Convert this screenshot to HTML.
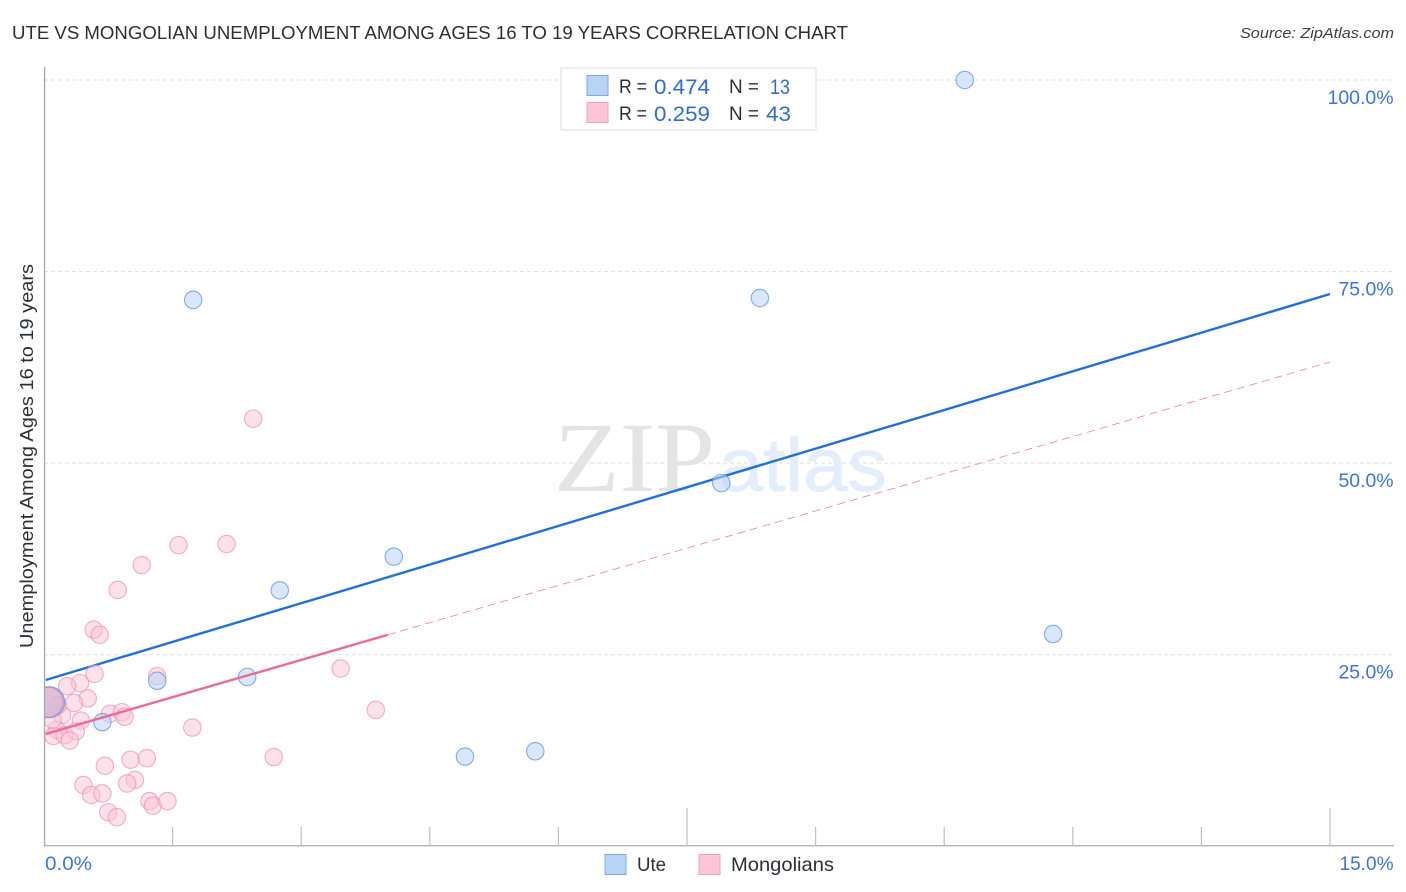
<!DOCTYPE html>
<html lang="en">
<head>
<meta charset="utf-8">
<title>Ute vs Mongolian Unemployment Correlation Chart</title>
<style>
html,body{margin:0;padding:0;background:#fff;width:1406px;height:892px;overflow:hidden}
svg{display:block;font-family:"Liberation Sans",sans-serif}
</style>
</head>
<body>
<svg id="chart" xmlns="http://www.w3.org/2000/svg" width="1406" height="892" viewBox="0 0 1406 892">
  <rect width="1406" height="892" fill="#fff"/>
  <text x="12" y="39" font-size="18.5" fill="#2b2f36" textLength="836" lengthAdjust="spacingAndGlyphs">UTE VS MONGOLIAN UNEMPLOYMENT AMONG AGES 16 TO 19 YEARS CORRELATION CHART</text>
  <text x="1394" y="38" font-size="15" font-style="italic" fill="#3a3f46" text-anchor="end" textLength="154" lengthAdjust="spacingAndGlyphs">Source: ZipAtlas.com</text>

  <g id="grid"></g>

  <g>
    <text x="554" y="491" font-family="'Liberation Serif',serif" font-size="100" fill="#e4e4e4" textLength="161" lengthAdjust="spacingAndGlyphs">ZIP</text>
    <text x="719" y="491" font-size="75" fill="#e3edfb" stroke="#e3edfb" stroke-width="0.8" textLength="168" lengthAdjust="spacingAndGlyphs">atlas</text>
  </g>

  <g id="axes"></g>
  <g id="trends"></g>
  <g id="points"></g>
  <g id="labels"></g>

  <text transform="translate(33,648) rotate(-90)" font-size="18.5" fill="#2b2f36" textLength="384" lengthAdjust="spacingAndGlyphs">Unemployment Among Ages 16 to 19 years</text>

  <g>
    <rect x="561" y="68" width="255" height="62" fill="#fff" stroke="#dedede" stroke-width="1"/>
    <rect x="587" y="75.5" width="21" height="20" fill="#b9d3f7" stroke="#7fa9e4" stroke-width="1"/>
    <rect x="587" y="102.5" width="21" height="20" fill="#fcc4d7" stroke="#f1a1bb" stroke-width="1"/>
    <g font-size="19" fill="#2b2f36">
      <text x="619" y="93" textLength="28" lengthAdjust="spacingAndGlyphs">R =</text>
      <text x="729" y="93" textLength="30" lengthAdjust="spacingAndGlyphs">N =</text>
      <text x="619" y="120" textLength="28" lengthAdjust="spacingAndGlyphs">R =</text>
      <text x="729" y="120" textLength="30" lengthAdjust="spacingAndGlyphs">N =</text>
    </g>
    <g font-size="21" fill="#2f6bd0">
      <text x="654" y="94" textLength="56" lengthAdjust="spacingAndGlyphs">0.474</text>
      <text x="770" y="94" textLength="20" lengthAdjust="spacingAndGlyphs">13</text>
      <text x="654" y="121" textLength="56" lengthAdjust="spacingAndGlyphs">0.259</text>
      <text x="766" y="121" textLength="25" lengthAdjust="spacingAndGlyphs">43</text>
    </g>
  </g>

  <g>
    <rect x="605" y="854.5" width="21" height="20" fill="#b9d3f7" stroke="#7fa9e4" stroke-width="1"/>
    <text x="637" y="871" font-size="19.5" fill="#2b2f36" textLength="29" lengthAdjust="spacingAndGlyphs">Ute</text>
    <rect x="699" y="854.5" width="21" height="20" fill="#fcc4d7" stroke="#f1a1bb" stroke-width="1"/>
    <text x="731" y="871" font-size="19.5" fill="#2b2f36" textLength="103" lengthAdjust="spacingAndGlyphs">Mongolians</text>
  </g>
</svg>
<script>
// ---- Chart data ----
const uteX = [10.74, 1.74, 8.35, 7.90, 4.08, 2.75, 11.77, 1.32, 2.37, 0.68, 4.91, 5.73];
const uteY = [100, 71.3, 71.55, 47.4, 37.8, 33.4, 27.7, 21.6, 22.1, 16.2, 11.7, 12.4];
const uteBigX = [0.05];
const uteBigY = [18.8];
const mongolianX = [0.58, 0.65, 0.59, 0.42, 0.27, 0.51, 0.35, 1.32, 0.77, 0.91, 0.94, 0.43, 0.21, 0.15, 0.11, 0.24, 0.37, 0.30, 0.10, 1.73, 3.46, 3.87, 2.68, 0.71, 1.01, 1.20, 1.06, 0.97, 0.46, 0.55, 0.68, 0.75, 0.85, 1.23, 1.27, 1.44, 2.44, 2.13, 1.57, 1.14, 0.86, 0.16];
const mongolianY = [28.27, 27.6, 22.5, 21.3, 20.9, 19.3, 18.7, 22.2, 17.3, 17.5, 16.9, 16.4, 17.1, 15.2, 14.4, 14.5, 15.0, 13.8, 16.5, 15.5, 23.2, 17.8, 11.65, 10.5, 11.3, 11.5, 8.65, 8.2, 8.0, 6.7, 6.9, 4.45, 3.8, 5.9, 5.3, 5.9, 55.8, 39.45, 39.3, 36.7, 33.45, 18.4];
const mongolianBigX = [0.05];
const mongolianBigY = [18.8];
const uteTrendX = [0.02, 15];
const uteTrendY = [21.7, 72.07];
const mongolianSolidX = [0.02, 4.01];
const mongolianSolidY = [14.66, 27.6];
const mongolianDashX = [4.01, 15];
const mongolianDashY = [27.6, 63.2];
const yGridValues = [25, 50, 75, 100];
const yTickLabels = ["25.0%", "50.0%", "75.0%", "100.0%"];
const xTickValues = [0, 1.5, 3, 4.5, 6, 7.5, 9, 10.5, 12, 13.5, 15];
const xMajorTicks = [7.5, 15];
const xEndValues = [0, 15];
const xEndLabels = ["0.0%", "15.0%"];

// ---- Axis functions ----
const X0 = 44, X1 = 1330, Y0 = 846.3, Y100 = 80;
function sx(v) { return X0 + (X1 - X0) * v / 15; }
function sy(v) { return Y0 + (Y100 - Y0) * v / 100; }

const NS = 'http://www.w3.org/2000/svg';
function make(tag, parent, attrs, text) {
  const el = document.createElementNS(NS, tag);
  for (const k in attrs) el.setAttribute(k, attrs[k]);
  if (text !== undefined) el.textContent = text;
  parent.appendChild(el);
  return el;
}
const grid = document.getElementById('grid');
const axes = document.getElementById('axes');
const trends = document.getElementById('trends');
const points = document.getElementById('points');
const labels = document.getElementById('labels');

// Gridlines and y tick labels
yGridValues.forEach(function (v, i) {
  const line = make('line', grid, { x1: X0, x2: 1394, y1: sy(v), y2: sy(v), stroke: '#dfdfdf', 'stroke-width': 1, 'stroke-dasharray': '4 3' });
  
  
  const t = make('text', labels, { x: 1393.5, y: sy(v) + 24, 'font-size': 19.5, fill: '#3f72d8', 'text-anchor': 'end', textLength: yTickLabels[i].length * 11, lengthAdjust: 'spacingAndGlyphs' }, yTickLabels[i]);
  
  
});

// Axes
const yAxis = make('line', axes, { x1: 44.5, x2: 44.5, y1: 67, y2: 846, stroke: '#ababab', 'stroke-width': 1.3 });


const xAxis = make('line', axes, { x1: 44, x2: 1394, y1: 845.7, y2: 845.7, stroke: '#b4b4b4', 'stroke-width': 1.3 });


xTickValues.forEach(function (v) {
  if (v === 0) return;
  const top = xMajorTicks.indexOf(v) >= 0 ? 808 : 827;
  const tick = make('line', axes, { x1: sx(v), x2: sx(v), y1: top, y2: 846, stroke: '#c0c0c0', 'stroke-width': 1.2 });
  
  
});
xEndValues.forEach(function (v, i) {
  const t = make('text', labels, v === 0
    ? { x: sx(v) + 1, y: 870, 'font-size': 19.5, fill: '#3f72d8', textLength: 47, lengthAdjust: 'spacingAndGlyphs' }
    : { x: 1393.5, y: 870, 'font-size': 19.5, fill: '#3f72d8', 'text-anchor': 'end', textLength: 54, lengthAdjust: 'spacingAndGlyphs' }, xEndLabels[i]);
  
  
});

// Points
mongolianX.forEach(function (v, i) {
  const c = make('circle', points, { cx: sx(v), cy: sy(mongolianY[i]), r: 8.7, fill: '#fbc3d6', 'fill-opacity': 0.5, stroke: '#ee8fae', 'stroke-opacity': 0.7, 'stroke-width': 1.1 });
  
  
});
uteX.forEach(function (v, i) {
  const c = make('circle', points, { cx: sx(v), cy: sy(uteY[i]), r: 8.7, fill: '#b9d3f7', 'fill-opacity': 0.55, stroke: '#6c9fe4', 'stroke-opacity': 0.85, 'stroke-width': 1.1 });
  
  
});
uteBigX.forEach(function (v, i) {
  const c = make('circle', points, { cx: sx(v) + 1, cy: sy(uteBigY[i]), r: 15.5, fill: '#a9c0e8', 'fill-opacity': 0.7, stroke: '#6c9fe4', 'stroke-opacity': 0.85, 'stroke-width': 1.1 });
  
  
});
mongolianBigX.forEach(function (v, i) {
  const c = make('circle', points, { cx: sx(v), cy: sy(mongolianBigY[i]), r: 15, fill: '#f0b0c8', 'fill-opacity': 0.6, stroke: '#c77fb0', 'stroke-opacity': 0.8, 'stroke-width': 1.1 });
  
  
});
// Hides the part of the points that falls left of the y axis
const mask = make('rect', points, { x: 0, y: 60, width: X0, height: 786, fill: '#fff' });


const yAxisTop = make('line', points, { x1: 44.5, x2: 44.5, y1: 67, y2: 846, stroke: '#ababab', 'stroke-width': 1.3 });



// Trend lines
const tu = make('line', trends, { x1: sx(uteTrendX[0]), y1: sy(uteTrendY[0]), x2: sx(uteTrendX[1]), y2: sy(uteTrendY[1]), stroke: '#2070dc', 'stroke-width': 2.4 });


const td = make('line', trends, { x1: sx(mongolianDashX[0]), y1: sy(mongolianDashY[0]), x2: sx(mongolianDashX[1]), y2: sy(mongolianDashY[1]), stroke: '#ee7fa4', 'stroke-width': 0.8, 'stroke-dasharray': '8 5' });


// Drawn after the points so the solid line sits on top of them
const ts = make('line', points, { x1: sx(mongolianSolidX[0]), y1: sy(mongolianSolidY[0]), x2: sx(mongolianSolidX[1]), y2: sy(mongolianSolidY[1]), stroke: '#ea6a98', 'stroke-width': 2.4 });


</script>
</body>
</html>
